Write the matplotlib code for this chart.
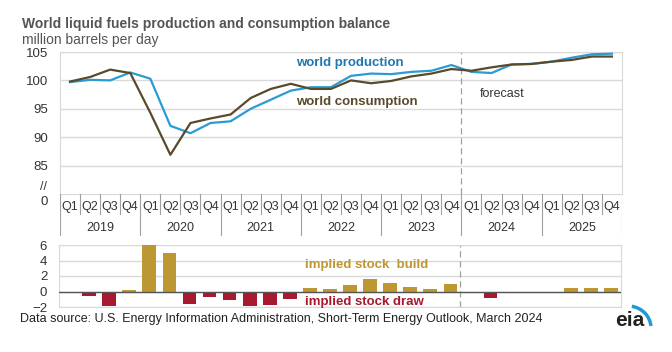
import matplotlib
matplotlib.use('Agg')
import matplotlib.pyplot as plt
from matplotlib.patches import Arc

plt.rcParams['font.family'] = ['Liberation Sans', 'DejaVu Sans']

# Data (million barrels per day), 2019 Q1 .. 2025 Q4
years = ['2019', '2020', '2021', '2022', '2023', '2024', '2025']
quarters = ['Q1', 'Q2', 'Q3', 'Q4']
production = [99.7, 100.1, 100.0, 101.4, 100.3, 92.0, 90.7, 92.5,
              92.8, 95.0, 96.6, 98.2, 98.8, 98.8, 100.8, 101.2,
              101.1, 101.5, 101.7, 102.7, 101.5, 101.3, 102.8, 102.9,
              103.3, 104.0, 104.6, 104.7]
consumption = [99.8, 100.6, 101.9, 101.3, 94.3, 86.9, 92.5, 93.3,
               94.0, 96.9, 98.5, 99.4, 98.5, 98.5, 100.0, 99.5,
               99.9, 100.7, 101.2, 102.0, 101.7, 102.3, 102.8, 102.9,
               103.3, 103.6, 104.2, 104.2]
stock_change = [-0.15, -0.56, -1.9, 0.17, 6.0, 5.0, -1.63, -0.69,
                -1.16, -1.85, -1.72, -0.99, 0.47, 0.26, 0.86, 1.63,
                1.16, 0.6, 0.34, 0.95, -0.22, -0.82, -0.08, -0.03,
                -0.1, 0.47, 0.47, 0.47]
forecast_start = 20  # 2024 Q1

PROD = '#2b9bd3'
CONS = '#5a4a2c'
BUILD = '#bd9731'
DRAW = '#a6192e'
GRID = '#d9d9d9'
TXT = '#333333'

W, H = 672, 352
fig = plt.figure(figsize=(W / 100, H / 100), dpi=100)


def px_axes(left, top, right, bottom):
    return fig.add_axes([left / W, 1 - bottom / H, (right - left) / W, (bottom - top) / H])


def px_text(xp, yp, s, **kw):
    # place text using pixel coords measured from the top-left corner
    kw.setdefault('va', 'center')
    return fig.text(xp / W, 1 - yp / H, s, **kw)


n = len(production)
x = list(range(n))
xlim = (-0.5, n - 0.5)

# --- top line chart ---
ax = px_axes(60, 52, 622, 194)
ax.plot(x, production, color=PROD, lw=1.6, zorder=3)
ax.plot(x, consumption, color=CONS, lw=1.6, zorder=4)
ax.set_xlim(*xlim)
ax.set_ylim(80, 105)
ax.set_yticks([85, 90, 95, 100, 105])
ax.yaxis.grid(True, color=GRID, lw=1)
ax.set_axisbelow(True)
ax.set_xticks([])
ax.tick_params(axis='y', length=0, labelsize=9.5, labelcolor=TXT, pad=8.5)
for s in ax.spines.values():
    s.set_color(GRID)
ax.axvline(forecast_start - 0.5, color='#a0a0a0', lw=0.9, ls=(0, (5, 3)), zorder=2)

px_text(48, 202, '0', ha='right', fontsize=9.5, color=TXT)
px_text(47, 187, '//', ha='right', fontsize=9, color=TXT)
px_text(296, 63, 'world production', fontsize=9.5, fontweight='bold', color='#1f78b0')
px_text(296, 102, 'world consumption', fontsize=9.5, fontweight='bold', color=CONS)
px_text(480, 94, 'forecast', fontsize=9, color=TXT)

# --- category axis ---
cax = px_axes(60, 194, 622, 236)
cax.set_xlim(*xlim)
cax.set_ylim(0, 1)
cax.axis('off')
for i in range(n + 1):
    if i % 4 == 0:
        cax.plot([i - 0.5, i - 0.5], [1, 0], color='#a0a0a0', lw=0.8)
    else:
        cax.plot([i - 0.5, i - 0.5], [1, 0.52], color='#a0a0a0', lw=0.8)
for i in range(n):
    cax.text(i, 0.70, quarters[i % 4], ha='center', va='center', fontsize=9, color=TXT)
for j, yr in enumerate(years):
    cax.text(j * 4 + 1.5, 0.20, yr, ha='center', va='center', fontsize=9, color=TXT)

# --- bottom bar chart ---
bx = px_axes(59, 245, 621, 307)
colors = [BUILD if v >= 0 else DRAW for v in stock_change]
bx.bar(x, stock_change, width=0.68, color=colors, zorder=3)
bx.set_xlim(*xlim)
bx.set_ylim(-2, 6)
bx.set_yticks([-2, 0, 2, 4, 6])
bx.yaxis.grid(True, color=GRID, lw=1)
bx.set_axisbelow(True)
bx.set_xticks([])
bx.tick_params(axis='y', length=0, labelsize=9.5, labelcolor=TXT, pad=8.5)
for s in bx.spines.values():
    s.set_color(GRID)
bx.axhline(0, color='#555555', lw=1, zorder=4)
bx.axvline(forecast_start - 0.5, color='#a0a0a0', lw=0.9, ls=(0, (5, 3)), zorder=2)
px_text(305, 265, 'implied stock  build', fontsize=9.5, fontweight='bold', color=BUILD)
px_text(305, 302, 'implied stock draw', fontsize=9.5, fontweight='bold', color=DRAW)

# --- titles and source ---
px_text(22, 24, 'World liquid fuels production and consumption balance',
        fontsize=10, fontweight='bold', color='#555555')
px_text(22, 40, 'million barrels per day', fontsize=10, color='#555555')
px_text(20, 319,
        'Data source: U.S. Energy Information Administration, Short-Term Energy Outlook, March 2024',
        fontsize=9, color='#222222')

# eia logo
px_text(630, 321, 'eia', fontsize=15, fontweight='bold', color='#222222', ha='center')
lax = px_axes(606, 296, 656, 336)
lax.set_xlim(0, 50)
lax.set_ylim(0, 40)
lax.axis('off')
lax.add_patch(Arc((22, 8), 46, 44, theta1=5, theta2=80, color='#1f9bd4', lw=2.5))

fig.savefig('out.png', dpi=100)
